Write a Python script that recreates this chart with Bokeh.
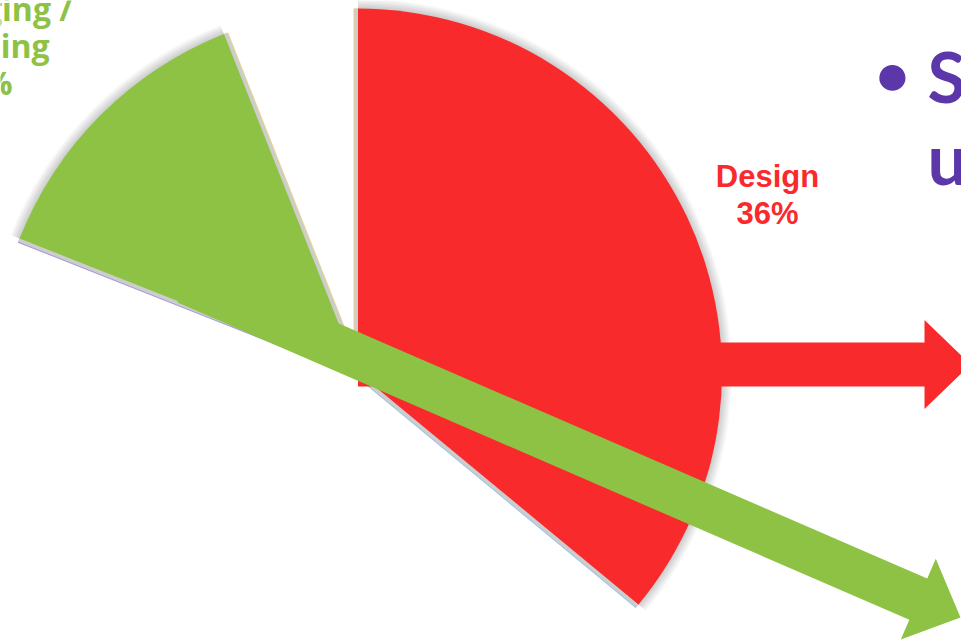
import math
import numpy as np
from bokeh.plotting import figure
from bokeh.models import Range1d
from bokeh.embed import file_html
from bokeh.resources import INLINE
from bokeh.core.properties import value

# ---------------- data ----------------
categories = ["Design", "Other stages", "Packaging / Labeling", "Other"]
shares = [36, 45, 13, 6]            # percent, clockwise from 12 o'clock
slice_colors = ["#F92A2C", "#FFFFFF", "#8DC244", "#FFFFFF"]
shown = [True, False, True, False]   # slices drawn in colour
label_lines = {"Design": ["Design"], "Packaging / Labeling": ["Packaging /", "Labeling"]}
side_text = ["Savings", "up to"]

# ---------------- layout ----------------
W, H = 961, 640
CX, CY = 357.5, H - 372
R = 364
RED, GREEN, PURPLE = "#F92A2C", "#8DC244", "#5B37A9"

p = figure(width=W, height=H, x_range=Range1d(0, W), y_range=Range1d(0, H),
           x_axis_type=None, y_axis_type=None, toolbar_location=None,
           output_backend="svg", min_border=0, outline_line_color=None,
           background_fill_color="white", border_fill_color="white")
p.grid.visible = False

vals = np.array(shares, dtype=float)
cw_end = np.cumsum(vals) / vals.sum() * 360.0
cw_start = cw_end - vals / vals.sum() * 360.0
m_start = np.radians(90.0 - cw_end)   # math angles (ccw from +x)
m_end = np.radians(90.0 - cw_start)

# soft shadow beyond the arcs of coloured slices
for k in range(1, 8):
    for i, s in enumerate(shown):
        if s:
            p.wedge(x=CX, y=CY, radius=R + 1.4 * k, start_angle=m_start[i], end_angle=m_end[i],
                    fill_color="black", fill_alpha=0.028, line_color=None)

# outlines of the (white) neighbouring slices along the radial edges
boundary_cw = [0.0, cw_end[0], cw_end[1], cw_end[2]]
boundary_col = ["#E6D58A", "#9CC3E6", "#A29AD8", "#E6D58A"]
for a, c in zip(boundary_cw, boundary_col):
    t = math.radians(90.0 - a)
    p.segment(x0=CX, y0=CY, x1=CX + R * math.cos(t), y1=CY + R * math.sin(t),
              line_color=c, line_width=9)
    p.segment(x0=CX, y0=CY, x1=CX + R * math.cos(t), y1=CY + R * math.sin(t),
              line_color="#CDCDCD", line_width=7)


def arrow(tail, tip, sh, hh, hl):
    tail = np.array(tail, float)
    tip = np.array(tip, float)
    d = (tip - tail) / np.linalg.norm(tip - tail)
    n = np.array([-d[1], d[0]])
    base = tip - d * hl
    pts = [tail + n * sh, base + n * sh, base + n * hh, tip,
           base - n * hh, base - n * sh, tail - n * sh]
    return [q[0] for q in pts], [q[1] for q in pts]


# red arrow (from the Design slice, pointing right)
xs, ys = arrow((CX, H - 364), (970, H - 364), 22, 44.5, 46)
p.patch(xs, ys, fill_color=RED, line_color=None)

# coloured slices
for i, s in enumerate(shown):
    if s:
        p.wedge(x=CX, y=CY, radius=R, start_angle=m_start[i], end_angle=m_end[i],
                fill_color=slice_colors[i], line_color=None)

# green arrow (from the Packaging slice, pointing down-right)
xs, ys = arrow((186, H - 281.4), (960, H - 617), 22.5, 44, 46)
p.patch(xs, ys, fill_color=GREEN, line_color=None)

# labels
d_lines = label_lines["Design"] + [f"{shares[0]}%"]
p.text(x=[767] * len(d_lines), y=[H - 176, H - 213], text=d_lines,
       text_align="center", text_baseline="alphabetic",
       text_font=value("Liberation Sans"), text_font_style="bold",
       text_font_size="31px", text_color=RED)

g_lines = label_lines["Packaging / Labeling"] + [f"{shares[2]}%"]
p.text(x=[72, 49, 12], y=[H - 8, H - 45, H - 82], text=g_lines,
       text_align="right", text_baseline="alphabetic",
       text_font=value("Open Sans"), text_font_style="bold",
       text_font_size="32px", text_color=GREEN)

p.text(x=[892], y=[H - 72], text=["•"], text_align="center", text_baseline="middle",
       text_font=value("Lato"), text_font_style="bold", text_font_size="60px",
       text_color=PURPLE)
p.text(x=[927, 927], y=[H - 75, H - 157], text=side_text, text_align="left",
       text_baseline="alphabetic", text_font=value("Lato"), text_font_style="bold",
       text_font_size="70px", text_color=PURPLE)

open("out.html", "w").write(file_html(p, INLINE))
